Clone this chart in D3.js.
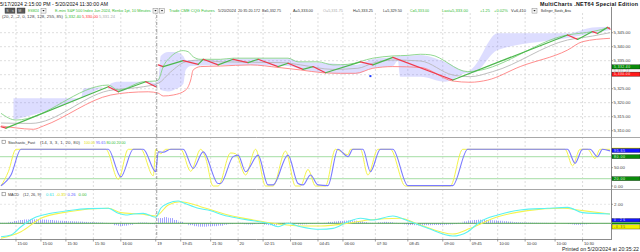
<!DOCTYPE html>
<html><head><meta charset="utf-8">
<script src="https://cdn.jsdelivr.net/npm/d3@7"></script>
<style>body{margin:0;background:#fff;}svg{display:block;font-family:"Liberation Sans",Arial,sans-serif;}</style>
</head><body><svg id="c" width="640" height="252"></svg>
<script>
// ---------- DATA ----------
const timeTickBars = [6,16,26,37,48,62,72,84,95,105,116,127,137,150,163,177,188,199,210,222,233];
const timeTickLabels = ["15:00","15:00","15:30","15:30","16:00","19","19:45","21:30","20","02:15","03:00","04:45","06:00","07:30","08:45","09:00","09:45","10:00","10:00","10:00","10:30"];
const sessionBreakBar = 62.4;
const priceTicks = [5310,5315,5320,5325,5330,5335,5340,5345];
const priceTickLabels = ["5,310.00","5,315.00","5,320.00","5,325.00","5,330.00","5,335.00","5,340.00","5,345.00"];

// Renko close line (vertices)
const priceBars   = [0,2,43,47,58,62,63,65,73,79,81,87,93,99,103,111,115,121,125,130,144,149,157,181,227,231,237,239,243,244];
const priceValues = [5311.4,5310.9,5325.7,5323.9,5327.5,5325.7,5333.5,5332.9,5335.0,5333.7,5335.5,5333.5,5335.5,5334.3,5335.5,5332.9,5334.1,5331.9,5332.9,5330.7,5334.6,5333.5,5336.2,5328.1,5344.2,5342.6,5345.4,5344.7,5346.9,5346.3];

// Bollinger upper / middle / lower
const upperBars   = [0,6,43,47,57,62,63,65,68,73,75,77,80,88,93,115,119,127,133,139,149,157,163,168,172,187,227,237,244];
const upperValues = [5316.2,5313.8,5326.3,5324.5,5327.5,5327.75,5328.1,5332.9,5336.4,5338.6,5338.2,5336.4,5335.5,5335.5,5335.9,5335.9,5334.6,5334.6,5333.5,5333.7,5335.9,5336.7,5336.9,5337.3,5337.1,5331.1,5344.2,5345.4,5346.9];
const midBars   = [0,12,43,57,63,68,74,80,88,113,120,133,143,149,157,168,181,188,197,227,237,244];
const midValues = [5312.75,5312.6,5324.3,5325.7,5326.9,5331.0,5334.6,5335.25,5334.6,5334.3,5333.5,5331.9,5332.3,5334.1,5335.25,5334.9,5329.9,5329.3,5331.1,5342.4,5343.8,5345.0];
const lowerBars   = [0,6,13,17,44,51,59,63,65,69,74,76,77,80,88,100,111,120,129,136,142,149,157,168,181,188,195,208,227,233,244];
const lowerValues = [5311.7,5311.0,5310.5,5311.7,5322.75,5323.6,5323.9,5323.4,5322.4,5322.75,5324.5,5328.1,5331.7,5332.9,5333.1,5333.5,5332.6,5331.7,5330.7,5330.5,5330.5,5332.3,5332.9,5332.6,5327.75,5327.3,5328.1,5332.9,5338.8,5341.8,5343.0];

// Bollinger_Bands_Area (shaded)
const areaBars   = [5,32,33,43,44,47,58,60,62,63,64,67,70,73,74,76,88,93,115,120,130,142,149,157,159,160,168,178,187,189,199,227,237,244];
const areaTop    = [5321.6,5321.6,5325.1,5325.7,5326.9,5327.5,5327.5,5327.4,5327.0,5328.1,5336.7,5338.1,5338.1,5336.7,5335.25,5335.25,5335.4,5335.8,5335.8,5334.5,5334.2,5333.5,5335.6,5336.3,5336.7,5336.7,5337.0,5334.5,5331.1,5332.4,5344.8,5344.8,5346.9,5347.1];
const areaBottom = [5313.8,5321.6,5322.0,5325.7,5325.25,5323.9,5327.4,5326.6,5325.7,5327.0,5324.5,5324.0,5324.9,5326.7,5331.7,5333.1,5333.5,5333.5,5333.1,5332.0,5330.6,5330.25,5332.4,5333.1,5335.0,5329.3,5329.3,5327.5,5330.6,5330.6,5338.8,5343.1,5344.8,5346.0];
const dotBars = [148];
const dotValues = [5329.5];

// Stochastic_Fast
const stochDBars   = [0,4,8,43,48,53,57,62,63,65,68,73,77,81,87,88,93,95,98,103,107,109,115,119,121,124,127,131,135,139,141,145,148,152,157,163,181,187,227,230,233,236,239,241,244];
const stochDValues = [0.8,30,100,100,25,100,100,39,93,92,100,100,48,93,7,7,80,84,39,84,3,3,84,7,3,30,3,1,100,80,100,100,39,100,100,1,1,100,100,62,100,100,80,100,95.65];
const stochKBars   = [0,3,6,42,47,51,56,61,62,64,66,72,76,80,82,85,87,92,94,98,102,106,109,114,118,120,123,126,130,134,139,140,144,147,151,156,162,180,185,226,229,232,235,238,240,244];
const stochKValues = [0,40,100,100,18,100,100,28,100,88,100,100,40,100,75,0,0,90,88,30,100,0,0,95,0,0,45,0,0,100,85,100,100,30,100,100,0,0,100,100,55,100,100,75,100,100];
const stochLevels = [80,20];

// MACD
const macdBars   = [0,4,8,13,20,27,35,43,47,50,53,57,62,64,67,71,73,79,84,89,95,101,107,111,115,120,128,133,139,144,149,157,163,171,181,187,192,199,208,219,227,233,244];
const macdValues = [-1.41,-1.23,-0.36,0.53,1.05,1.33,1.54,1.58,1.05,0.87,0.98,1.05,0.63,1.58,2.1,2.35,2.17,1.58,1.33,0.87,0.53,0.27,0,-0.36,0,-0.36,-0.63,-0.53,0.17,0.53,0.35,0.77,0.27,-0.53,-1.34,-0.88,0.17,0.87,1.4,1.58,1.68,1.12,0.98];
const signalBars   = [0,8,16,27,43,48,56,62,67,72,80,91,101,111,120,128,139,147,160,168,181,188,199,211,225,233,244];
const signalValues = [-1.58,-0.88,0.53,1.22,1.58,1.12,0.98,0.77,1.93,2.27,1.75,0.87,0.35,-0.07,-0.28,-0.28,0,0.35,0.53,-0.18,-1.13,-0.53,0.69,1.33,1.58,1.33,0.98];
const histStep = 2; // histogram value every 2 bars
const histValues = [0.05,0.05,0.15,0.25,0.35,0.4,0.42,0.42,0.4,0.38,
0.35,0.3,0.27,0.25,0.22,0.2,0.18,0.15,0.12,0.1,
0.08,0.05,-0.05,-0.2,-0.28,-0.25,-0.15,-0.05,0.08,0.08,
-0.08,-0.1,0.55,0.65,0.55,0.35,0.15,-0.05,-0.2,-0.3,
-0.35,-0.35,-0.3,-0.3,-0.25,-0.15,-0.08,0.03,0.05,-0.1,
-0.12,-0.08,-0.05,-0.15,-0.2,-0.2,-0.1,0.05,0.05,-0.05,
-0.12,-0.1,-0.05,-0.03,-0.02,0.05,0.15,0.2,0.25,0.28,
0.3,0.28,0.22,0.12,0.05,0.02,0.1,0.15,0.12,0.05,
-0.05,-0.12,-0.18,-0.2,-0.22,-0.2,-0.2,-0.18,-0.18,-0.15,
-0.12,-0.08,0.05,0.2,0.3,0.35,0.38,0.35,0.33,0.3,
0.27,0.22,0.18,0.12,0.1,0.08,0.07,0.06,0.05,0.05,
0.04,0.02,0,-0.02,-0.08,-0.15,-0.15,-0.1,-0.05,-0.02,
0,0.02,0];

// ---------- CHART ----------
const svg = d3.select('#c');
const AX = 611;
const P = {top:13, bot:137}, S = {top:138, bot:189}, M = {top:190, bot:239};
const x  = d3.scaleLinear().domain([0,244]).range([1,610]);
const yP = d3.scaleLinear().domain([5310,5345]).range([130.7,32.7]);
const yS = d3.scaleLinear().domain([0,100]).range([186,149.3]);
const yM = d3.scaleLinear().domain([0,2]).range([223.3,204.3]);

const defs = svg.append('defs');
[['cp',P],['cs',S],['cm',M]].forEach(([id,r])=>{
  defs.append('clipPath').attr('id',id).append('rect').attr('x',0).attr('y',r.top).attr('width',AX).attr('height',r.bot-r.top);
});
const pat = defs.append('pattern').attr('id','hatch').attr('width',2).attr('height',4).attr('patternUnits','userSpaceOnUse');
pat.append('rect').attr('width',1).attr('height',4).attr('fill','#7b7bff');

// text helper: fits the text into the target width (shrinks the font if needed)
function txt(g,s,xx,yy,o={}){
  const size=o.size||5;
  const t=g.append('text').attr('x',xx).attr('y',yy).text(s)
    .attr('font-size',size).attr('fill',o.fill||'#222');
  if(o.bold) t.attr('font-weight','bold');
  if(o.anchor) t.attr('text-anchor',o.anchor);
  if(o.tl){
    const w=t.node().getComputedTextLength();
    if(w>o.tl){ t.attr('font-size',size*o.tl/w); }
    else { t.attr('textLength',o.tl).attr('lengthAdjust','spacing'); }
  }
  return t;
}
const zip=(a,b)=>a.map((v,i)=>[v,b[i]]);

// vertical grid
const grid = svg.append('g');
timeTickBars.forEach(b=>{
  grid.append('line').attr('x1',x(b)).attr('x2',x(b)).attr('y1',P.top).attr('y2',M.bot)
    .attr('stroke','#d4d4d4').attr('stroke-width',0.8).attr('stroke-dasharray','2,2');
});
priceTicks.forEach(v=>{
  grid.append('line').attr('x1',0).attr('x2',AX).attr('y1',yP(v)).attr('y2',yP(v))
    .attr('stroke','#d4d4d4').attr('stroke-width',0.8).attr('stroke-dasharray','2,2');
});
[50].forEach(v=>grid.append('line').attr('x1',0).attr('x2',AX).attr('y1',yS(v)).attr('y2',yS(v))
    .attr('stroke','#e0e0e0').attr('stroke-width',0.8).attr('stroke-dasharray','2,2'));
[2].forEach(v=>grid.append('line').attr('x1',0).attr('x2',AX).attr('y1',yM(v)).attr('y2',yM(v))
    .attr('stroke','#e0e0e0').attr('stroke-width',0.8).attr('stroke-dasharray','2,2'));

// ---- price panel ----
const gp = svg.append('g').attr('clip-path','url(#cp)');
const areaData = areaBars.map((b,i)=>({b,t:areaTop[i],l:areaBottom[i]}));
gp.append('path').datum(areaData)
  .attr('d',d3.area().x(d=>x(d.b)).y0(d=>yP(d.l)).y1(d=>yP(d.t)).curve(d3.curveMonotoneX))
  .attr('fill','rgb(128,128,255)').attr('fill-opacity',0.27);
const ln = d3.line().x(d=>x(d[0])).y(d=>yP(d[1])).curve(d3.curveMonotoneX);
gp.append('path').datum(zip(midBars,midValues)).attr('d',ln).attr('fill','none').attr('stroke','#b8b8b8').attr('stroke-width',0.9);
gp.append('path').datum(zip(upperBars,upperValues)).attr('d',ln).attr('fill','none').attr('stroke','#86d486').attr('stroke-width',0.9);
gp.append('path').datum(zip(lowerBars,lowerValues)).attr('d',ln).attr('fill','none').attr('stroke','#ff8080').attr('stroke-width',0.9);
for(let i=0;i<priceBars.length-1;i++){
  if(priceBars[i]<sessionBreakBar && priceBars[i+1]>sessionBreakBar) continue;
  const up = priceValues[i+1]>priceValues[i];
  gp.append('line').attr('x1',x(priceBars[i])).attr('y1',yP(priceValues[i]))
    .attr('x2',x(priceBars[i+1])).attr('y2',yP(priceValues[i+1]))
    .attr('stroke',up?'#4cb84c':'#f03a4c').attr('stroke-width',1.2).attr('stroke-linecap','round');
}
dotBars.forEach((b,i)=>gp.append('rect').attr('x',x(b)-1).attr('y',yP(dotValues[i])-1).attr('width',2).attr('height',2).attr('fill','#1e3cff'));

// ---- stochastic ----
const gs = svg.append('g').attr('clip-path','url(#cs)');
stochLevels.forEach(v=>gs.append('line').attr('x1',0).attr('x2',AX).attr('y1',yS(v)).attr('y2',yS(v)).attr('stroke','#b6e4b6').attr('stroke-width',1.3));
const lnS = d3.line().x(d=>x(d[0])).y(d=>yS(d[1])).curve(d3.curveMonotoneX);
gs.append('path').datum(zip(stochKBars,stochKValues)).attr('d',lnS).attr('fill','none').attr('stroke','#f4f44a').attr('stroke-width',1.0);
gs.append('path').datum(zip(stochDBars,stochDValues)).attr('d',lnS).attr('fill','none').attr('stroke','#7a7aff').attr('stroke-width',1.1);

// ---- MACD ----
const gm = svg.append('g').attr('clip-path','url(#cm)');
const bw = x(histStep)-x(0);
histValues.forEach((v,i)=>{
  const b=i*histStep;
  gm.append('rect').attr('x',x(b)-bw/2).attr('width',bw)
    .attr('y',yM(Math.max(v,0))).attr('height',Math.abs(yM(v)-yM(0)))
    .attr('fill','url(#hatch)').attr('opacity',0.7);
});
gm.append('line').attr('x1',0).attr('x2',AX).attr('y1',yM(0)).attr('y2',yM(0)).attr('stroke','#3f9a3f').attr('stroke-width',0.9);
const lnM = d3.line().x(d=>x(d[0])).y(d=>yM(d[1])).curve(d3.curveMonotoneX);
gm.append('path').datum(zip(signalBars,signalValues)).attr('d',lnM).attr('fill','none').attr('stroke','#f4f450').attr('stroke-width',1.1);
gm.append('path').datum(zip(macdBars,macdValues)).attr('d',lnM).attr('fill','none').attr('stroke','#5af2f2').attr('stroke-width',1.1);

// session break
svg.append('line').attr('x1',x(sessionBreakBar)).attr('x2',x(sessionBreakBar)).attr('y1',8).attr('y2',M.bot)
  .attr('stroke','#808080').attr('stroke-width',0.8).attr('stroke-dasharray','3,1.5,1,1.5');

// panel separators & axes
[P.bot+0.5, S.bot+0.5].forEach(yy=>svg.append('line').attr('x1',0).attr('x2',640).attr('y1',yy).attr('y2',yy).attr('stroke','#a8a8a8').attr('stroke-width',1));
svg.append('line').attr('x1',0).attr('x2',AX).attr('y1',M.bot+0.5).attr('y2',M.bot+0.5).attr('stroke','#8c8c8c').attr('stroke-width',1);
svg.append('line').attr('x1',AX+0.5).attr('x2',AX+0.5).attr('y1',7).attr('y2',M.bot+1).attr('stroke','#8c8c8c').attr('stroke-width',1);

// x axis ticks & labels
const gx = svg.append('g');
timeTickBars.forEach((b,i)=>{
  gx.append('line').attr('x1',x(b)).attr('x2',x(b)).attr('y1',M.bot).attr('y2',M.bot+2.5).attr('stroke','#777').attr('stroke-width',0.7);
  const s=timeTickLabels[i];
  txt(gx,s,x(b)+1.5,245,{size:4.4,fill:'#333',tl:s.length>2?10:4.5});
});

// right axis labels
const gr = svg.append('g');
const hiddenPriceLabel = 5330; // covered by the last-value marker
priceTicks.forEach((v,i)=>{
  gr.append('line').attr('x1',AX).attr('x2',AX+2).attr('y1',yP(v)).attr('y2',yP(v)).attr('stroke','#777').attr('stroke-width',0.7);
  if(v!==hiddenPriceLabel) txt(gr,priceTickLabels[i],613.5,yP(v)+1.6,{size:4.4,fill:'#444',tl:17});
});
function marker(yc,label,fill,tcol,h,fs){
  gr.append('rect').attr('x',AX+1).attr('y',yc-h/2).attr('width',640-AX-1).attr('height',h).attr('fill',fill).attr('stroke','#000').attr('stroke-width',0.3);
  txt(gr,label,614,yc+fs*0.36,{size:fs,fill:tcol,tl:label.length>5?16:11});
}
// price markers
gr.append('rect').attr('x',AX+1).attr('y',yP(5331.24)-2).attr('width',28).attr('height',4).attr('fill','#f4f4f4');
txt(gr,'5,331.24',614,yP(5331.24)+0.4,{size:2.9,fill:'#999',tl:15});
marker(yP(5332.40)-1.1,'5,332.40','#0a8a0a','#dfffdf',4.2,3.3);
marker(yP(5330.00)-0.5,'5,330.00','#ff1a1a','#ffe0e0',4.2,3.3);
// stochastic markers
[['50.00',50],['0.00',0]].forEach(([s,v])=>{
  gr.append('line').attr('x1',AX).attr('x2',AX+2).attr('y1',yS(v)).attr('y2',yS(v)).attr('stroke','#777').attr('stroke-width',0.7);
  txt(gr,s,614,yS(v)+1.6,{size:4.4,fill:'#444',tl:s.length>4?11:9});
});
gr.append('rect').attr('x',AX+1).attr('y',yS(100)-1.6).attr('width',28).attr('height',1.4).attr('fill','#ffff00');
marker(yS(95.65)-0.4,'95.65','#1414ff','#e0e0ff',4,3.6);
marker(yS(80),'80.00','#0a8a0a','#dfffdf',4,3.6);
marker(yS(20),'20.00','#0a8a0a','#dfffdf',4,3.6);
// MACD markers
gr.append('line').attr('x1',AX).attr('x2',AX+2).attr('y1',yM(2)).attr('y2',yM(2)).attr('stroke','#777').attr('stroke-width',0.7);
txt(gr,'2.00',614,yM(2)+1.6,{size:4.4,fill:'#444',tl:9});
marker(yM(0.26)-0.6,'0.26','#1414ff','#e0e0ff',3.4,3.0);
gr.append('rect').attr('x',AX+1).attr('y',yM(0)-0.9).attr('width',28).attr('height',1.6).attr('fill','#0a8a0a');
marker(yM(-0.35)+0.3,'-0.35','#f0f000','#606000',4.2,3.0);

// ---- header texts ----
const gh = svg.append('g');
txt(gh,'5/17/2024 2:15:00 PM - 5/20/2024 11:30:00 AM',0,5.8,{size:5.4,fill:'#111',tl:108});
txt(gh,'MultiCharts .NET64 Special Edition',540,5.8,{size:5.4,fill:'#111',tl:98,bold:true});
// row 2
function btn(xx,w,s){gh.append('rect').attr('x',xx).attr('y',8).attr('width',w).attr('height',5.2).attr('fill','#5a5a5a').attr('stroke','#333').attr('stroke-width',0.4);
  txt(gh,s,xx+1.2,12,{size:3.6,fill:'#ddd',tl:w-2.5});}
btn(5,10,'Ss'); btn(17,8,'M');
function dd(xx){gh.append('rect').attr('x',xx).attr('y',8.3).attr('width',5).attr('height',4.8).attr('fill','#f4f4f4').attr('stroke','#777').attr('stroke-width',0.4);
  gh.append('path').attr('d',`M${xx+1.4},10 L${xx+3.6},10 L${xx+2.5},11.4 Z`).attr('fill','#222');}
dd(41); dd(153); dd(159.5);
const G='#33bb33';
const r2=12.2, f2=4.4;
txt(gh,'ESM24',28,r2,{size:f2,fill:G,tl:11});
txt(gh,'E-mini S&P 500 Index Jun 2024, Renko 1pt, 10 Minutes',55,r2,{size:f2,fill:G,tl:96});
txt(gh,'Trade CME CQG Futures',169,r2,{size:f2,fill:G,tl:46});
txt(gh,'5/20/2024',218,r2,{size:f2,fill:'#333',tl:18});
txt(gh,'20:35:20.172',238,r2,{size:f2,fill:'#333',tl:22});
txt(gh,'B=5,332.75',262,r2,{size:f2,fill:'#333',tl:19});
txt(gh,'A=5,333.00',293,r2,{size:f2,fill:'#333',tl:20});
txt(gh,'O=5,331.75',323,r2,{size:f2,fill:'#aaa',tl:20});
txt(gh,'H=5,333.25',353,r2,{size:f2,fill:'#333',tl:20});
txt(gh,'L=5,329.50',383,r2,{size:f2,fill:'#333',tl:19});
txt(gh,'C=5,333.00',410,r2,{size:f2,fill:G,tl:19});
txt(gh,'Last=5,333.00',442,r2,{size:f2,fill:G,tl:26});
txt(gh,'+1.25',480,r2,{size:f2,fill:G,tl:10});
txt(gh,'+0.02%',494,r2,{size:f2,fill:G,tl:14});
txt(gh,'V=6,410',511,r2,{size:f2,fill:'#333',tl:15});
dd(532);
txt(gh,'Bollinger_Bands_Area',541,r2,{size:f2,fill:'#333',tl:30});
// row 3
txt(gh,'(20, 2, -2, 0, 128, 128, 255, 85)',2,17.6,{size:f2,fill:'#444',tl:61});
txt(gh,'5,332.40',65,17.6,{size:f2,fill:G,tl:16});
txt(gh,'5,330.00',82,17.6,{size:f2,fill:'#ff3030',tl:16});
txt(gh,'5,331.24',99,17.6,{size:f2,fill:'#aaa',tl:16});
// stochastic legend
function icon(yy){gh.append('rect').attr('x',2).attr('y',yy).attr('width',3.4).attr('height',3.4).attr('fill','#fff').attr('stroke','#666').attr('stroke-width',0.5);}
icon(140.2);
txt(gh,'Stochastic_Fast',8,143.6,{size:f2,fill:'#333',tl:27});
txt(gh,'(14, 3, 3, 1, 20, 80)',40,143.6,{size:f2,fill:'#444',tl:40});
txt(gh,'100.00',84,143.6,{size:f2,fill:'#e0e000',tl:11});
txt(gh,'95.65',96,143.6,{size:f2,fill:'#5a5aff',tl:9.5});
txt(gh,'80.00',106.5,143.6,{size:f2,fill:G,tl:9});
txt(gh,'20.00',116.5,143.6,{size:f2,fill:G,tl:9});
// MACD legend
icon(192.4);
txt(gh,'MACD',8,195.8,{size:f2,fill:'#333',tl:11});
txt(gh,'(12, 26, 9)',23,195.8,{size:f2,fill:'#444',tl:18});
txt(gh,'0.61',46,195.8,{size:f2,fill:'#22dddd',tl:8});
txt(gh,'-0.35',56,195.8,{size:f2,fill:'#e0e000',tl:10});
txt(gh,'0.26',67.5,195.8,{size:f2,fill:'#5a5aff',tl:8});
txt(gh,'0.00',78.5,195.8,{size:f2,fill:G,tl:8});
// footer
txt(gh,'Printed on 5/20/2024 at 20:35:22',562,251,{size:5.2,fill:'#222',tl:77});
</script></body></html>
